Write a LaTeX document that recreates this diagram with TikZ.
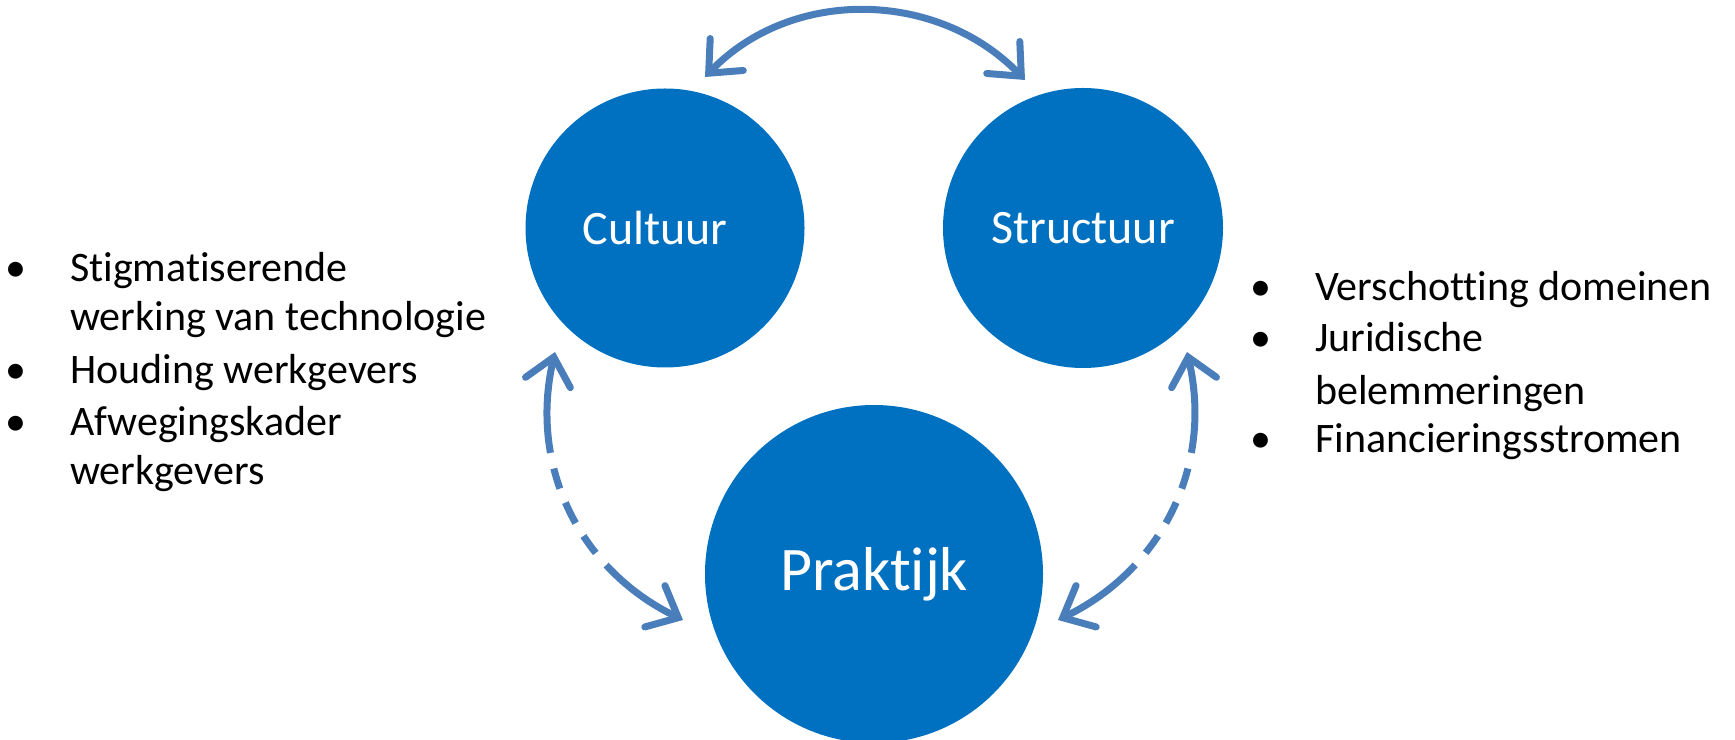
\documentclass[tikz,border=0pt]{standalone}
\usepackage{fontspec}
\setmainfont{Carlito}[Ligatures={NoCommon,NoContextual}]
\usetikzlibrary{arrows.meta}
\definecolor{circblue}{RGB}{0,112,192}
\definecolor{arrowblue}{RGB}{74,126,187}
\tikzset{
  bubble/.style={circle, fill=circblue, text=white, inner sep=0pt},
  barb/.tip={Straight Barb[length=26pt, width=46pt, line cap=round, line join=miter]},
  conn/.style={draw=arrowblue, line width=7pt, line cap=butt, barb-barb},
  gapped/.style={dash pattern=on 93pt off 16pt on 21pt off 15pt on 23pt off 15pt on 21pt off 16pt on 600pt},
  listtext/.style={font=\fontsize{42}{51}\selectfont, text=black, inner sep=0pt, anchor=base west},
  bul/.style={font=\fontsize{42}{51}\selectfont, text=black, inner sep=0pt, anchor=base}
}
\begin{document}
\begin{tikzpicture}[x=1pt, y=1pt]
\useasboundingbox (0,0) rectangle (1735,739);
\clip (0,0) rectangle (1735,739);
% circles
\node[bubble, minimum size=279pt] (cult) at (665,511) {};
\node[text=white, inner sep=0pt, font=\fontsize{48}{58}\selectfont] (cultlbl) at (655,511) {Cultuur};
\node[bubble, minimum size=280pt, font=\fontsize{48}{58}\selectfont] (struc) at (1083,511) {Structuur};
\node[bubble, minimum size=338pt, font=\fontsize{62}{74}\selectfont] (prak) at (874,165) {Praktijk};
% arrow ends
\coordinate (tl) at (705,662);
\coordinate (tr) at (1025,659);
\coordinate (ll) at (555,387);
\coordinate (lb) at (683,119);
\coordinate (rl) at (1187,387);
\coordinate (rb) at (1058,119);
% connectors
\draw[conn] (tl) to[out=46, in=134] (tr);
\draw[conn, gapped] (ll) to[out=257, in=154] (lb);
\draw[conn, gapped] (rl) to[out=283, in=26] (rb);
% left list
\node[bul] (lb1) at (16,457) {•};
\node[listtext] (lt1) at (70,457) {Stigmatiserende};
\node[listtext] (lt2) at (70,408) {werking van technologie};
\node[bul] (lb2) at (16,355) {•};
\node[listtext] (lt3) at (70,355) {Houding werkgevers};
\node[bul] (lb3) at (16,303) {•};
\node[listtext] (lt4) at (70,303) {Afwegingskader};
\node[listtext] (lt5) at (70,254) {werkgevers};
% right list
\node[bul] (rb1) at (1261,438) {•};
\node[listtext] (rt1) at (1315,438) {Verschotting domeinen};
\node[bul] (rb2) at (1261,387) {•};
\node[listtext] (rt2) at (1315,387) {Juridische};
\node[listtext] (rt3) at (1315,334) {belemmeringen};
\node[bul] (rb3) at (1261,286) {•};
\node[listtext] (rt4) at (1315,286) {Financieringsstromen};
\end{tikzpicture}
\end{document}
